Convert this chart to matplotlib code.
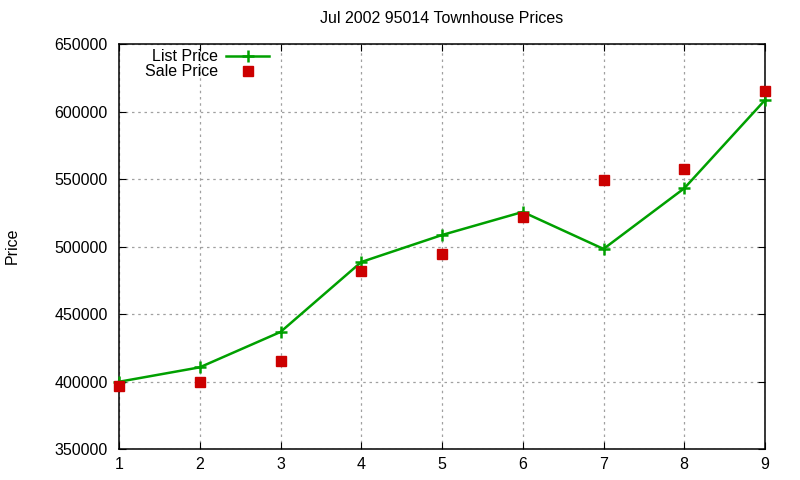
import matplotlib
matplotlib.use('Agg')
import matplotlib.pyplot as plt

plt.rcParams['font.family'] = ['Liberation Sans', 'DejaVu Sans']

months = [1, 2, 3, 4, 5, 6, 7, 8, 9]
list_price = [399800, 410500, 436700, 488500, 508500, 525600, 498200, 543100, 608500]
sale_price = [397000, 399700, 415400, 482000, 494500, 522000, 549300, 557700, 615500]

fig = plt.figure(figsize=(8, 4.8), dpi=100)
ax = fig.add_axes([119/800, 1 - 449/480, (765 - 119)/800, (449 - 44)/480])

ax.plot(months, list_price, color='#00a000', lw=1.8, marker='+', markersize=8,
        markeredgewidth=1.8, label='List Price', clip_on=False, zorder=3)
ax.plot(months, sale_price, color='#cc0000', lw=0, marker='s', markersize=6.5,
        label='Sale Price', clip_on=False, zorder=4)

ax.set_xlim(1, 9)
ax.set_ylim(350000, 650000)
ax.set_xticks(months)
ax.set_yticks(range(350000, 650001, 50000))
ax.grid(True, color='#a0a0a0', linestyle=(0, (2, 3)), lw=0.9)
ax.tick_params(direction='in', top=True, right=True, labelsize=11.5, length=5, pad=8)
ax.tick_params(axis='x', pad=6)
for s in ax.spines.values():
    s.set_linewidth(1.1)

ax.set_title('Jul 2002 95014 Townhouse Prices', fontsize=11.5, pad=15)
fig.text(12/800, 1 - 246/480, 'Price', rotation=90, fontsize=11.5, ha='center', va='center')

leg = ax.legend(loc='upper left', bbox_to_anchor=(0.023, 1.015), frameon=False, markerfirst=False,
                fontsize=11.5, handlelength=2.7, handletextpad=0.5, labelspacing=0.0,
                borderaxespad=0.3)
for t in leg.get_texts():
    t.set_ha('right')

fig.savefig('out.png', dpi=100)
